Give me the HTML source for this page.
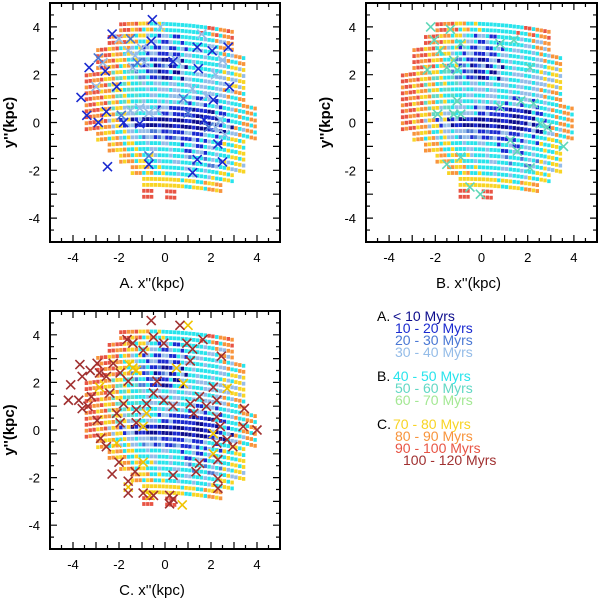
<!DOCTYPE html>
<html><head><meta charset="utf-8"><style>
body{margin:0;background:#fff;}
svg{display:block;font-family:"Liberation Sans",sans-serif;}
</style></head><body>
<svg id="chart" width="600" height="600" viewBox="0 0 600 600"></svg>
<script>
// field colour grid (rows y=4.0 down to -3.0, step 0.5; cols x=-4..3.5, step 0.5)
const gridRowsY=[4.0,3.5,3.0,2.5,2.0,1.5,1.0,0.5,0.0,-0.5,-1.0,-1.5,-2.0,-2.5,-3.0];
const gridColsX=[-4,-3.5,-3,-2.5,-2,-1.5,-1,-0.5,0,0.5,1,1.5,2,2.5,3,3.5];
const gridCodes=[
"....9874444498..",
"...98743144438..",
"..9874311344348.",
"..9874210344437.",
".98754210434337.",
".98754433443348.",
".987544343413448",
".987534311101448",
".987310010010348",
"..8743321131447.",
"...874434413447.",
"....87443442437.",
".....874443447..",
"......7777478...",
"......9.9......."];
const codeColors={"0":"#0c0c8c","1":"#1a2ad0","2":"#4a78d4","3":"#94bce8","4":"#28e4ec","5":"#62d8c4","6":"#a4e894","7":"#f8d424","8":"#f8943c","9":"#e85444","a":"#a03030"};
// crosses panel A
const aDarkX=[-0.55,-2.3,-0.6,2.75,2.05,1.4,0.35,-2.6,1.45,-3.3,2.8,-2.1,-3.65,2.1,-2.55,-3.4,-2.9,-1.8,1.7,2.3,-0.7,-2.5,1.2,1.4,2.5,-1.1];
const aDarkY=[4.3,3.7,3.4,3.15,3.0,3.15,2.55,2.15,2.25,2.3,1.5,1.5,1.05,0.95,0.45,0.3,0.0,0.0,0.1,-0.9,-1.75,-1.85,-2.1,-1.55,-1.65,-0.05];
const aMidX=[-1.5,-2.9,-1.2,0.8,-1.9,1.9,-0.7,1.0];
const aMidY=[3.5,2.7,2.5,1.0,0.3,-0.2,-1.4,0.4];
const aLightX=[-1.6,-1.3,-1.0,-1.4,-0.9,0.5,1.6,2.5,1.2,1.8,-1.1,-0.7,-1.5,-0.3,2.2,2.6,2.4,-2.7,-2.0,-0.2,2.2,-3.0];
const aLightY=[3.0,2.8,3.1,2.3,2.5,2.6,3.7,2.6,1.4,1.1,0.6,0.4,0.5,0.5,-0.2,-0.5,0.1,2.5,3.5,4.0,2.0,1.5];
// crosses panel B
const bX=[-2.2,-1.35,-0.9,1.4,-1.8,-1.2,-1.05,-2.35,-1.5,2.1,-1.05,-1.2,-1.9,-0.9,0.8,1.7,2.25,2.55,2.85,3.55,1.25,1.55,-0.9,-1.5,-0.5,-0.05,2.1,-2.05,0.8];
const bY=[4.0,3.9,3.3,3.45,3.0,2.6,2.2,2.2,2.3,2.3,0.9,0.35,0.35,0.35,0.65,0.9,0.8,-0.05,-0.2,-1.0,-0.75,-1.2,-1.45,-1.75,-2.7,-3.0,-1.9,3.45,3.3];
// crosses panel C
const cRedX=[-0.6,0.65,-1.4,-1.65,-0.5,-0.05,0.95,1.65,1.2,2.45,-0.95,1.1,-3.7,-3.25,-2.95,-2.85,-3.6,-2.55,-2.25,-1.95,-1.6,-0.35,-4.1,-4.2,-3.75,-3.2,-3.6,-3.35,-2.4,-1.8,-0.8,-0.05,-0.5,-1.25,-2.1,-1.95,-1.25,-2.95,-2.8,-2.55,0.35,1.1,1.25,1.8,2.1,2.25,1.5,2.25,2.4,2.7,2.95,3.4,3.45,4.0,2.25,2.3,1.5,1.35,2.3,2.3,-2.0,-2.3,-1.3,-1.6,-1.6,-0.5,-0.95,0.2,0.2,0.35,0.35];
const cRedY=[4.6,4.4,3.65,3.8,3.9,3.65,3.65,3.8,3.4,3.1,3.35,2.9,2.75,2.5,2.8,2.4,2.25,2.25,2.8,2.4,2.05,2.05,1.9,1.25,1.25,1.4,0.9,1.0,1.55,1.1,1.1,1.25,1.55,0.85,0.7,0.3,0.3,0.4,-0.35,-0.7,1.0,1.1,0.7,1.0,1.8,1.25,1.4,0.55,0.15,-0.4,-0.7,0.15,0.9,0.0,-0.55,-1.25,-1.4,-1.75,-2.05,-2.45,-1.35,-1.85,-1.75,-2.15,-2.65,-2.75,-2.65,-2.75,-3.1,-2.9,-1.9];
const cYelX=[1.0,-1.4,-1.25,-1.55,0.5,0.8,-2.85,-0.8,-0.95,2.1,2.1,-0.95,0.75,-0.65,-1.6,-2.1,2.7];
const cYelY=[4.4,2.6,2.5,2.75,2.6,1.95,1.8,0.7,0.15,-0.15,-1.0,-1.35,-3.15,-2.75,-2.4,-0.55,1.75];
// legend
const legendLabels=["< 10 Myrs","10 - 20 Myrs","20 - 30 Myrs","30 - 40 Myrs","40 - 50 Myrs","50 - 60 Myrs","60 - 70 Myrs","70 - 80 Myrs","80 - 90 Myrs","90 - 100 Myrs","100 - 120 Myrs"];
const legendColors=["#0c0c8c","#1a2ad0","#4a78d4","#94bce8","#28e4ec","#62d8c4","#a4e894","#f8d424","#f8943c","#e85444","#a03030"];
const tickValues=[-4,-2,0,2,4];

const NS="http://www.w3.org/2000/svg";
const svg=document.getElementById('chart');
function mk(tag,attrs,parent){const e=document.createElementNS(NS,tag);for(const k in attrs)e.setAttribute(k,attrs[k]);(parent||svg).appendChild(e);return e;}

const panels=[
 {id:'a',left:50,right:280,top:3,bottom:242,label:"A. x''(kpc)"},
 {id:'b',left:366,right:597,top:3,bottom:242,label:"B. x''(kpc)"},
 {id:'c',left:50,right:280,top:311,bottom:549,label:"C. x''(kpc)"}];
const shiftPattern=[0,-1,1];

function drawPanel(p,crossSets){
 const g=mk('g',{});
 
 
 const sx=v=>p.left+(v+5)/10*(p.right-p.left);
 const sy=v=>p.bottom-(v+5)/10*(p.bottom-p.top);
 // field
 const fg=mk('g',{},g);
 
 
 gridRowsY.forEach((yc,ri)=>{
  gridColsX.forEach((xl,ci)=>{
   const c=gridCodes[ri][ci];
   if(!c||c==='.')return;
   for(let s=0;s<2;s++){
    const yy=yc+0.125-s*0.25;
    for(let k=0;k<3;k++){
     const xx=xl+(k+0.5)*0.5/3;
     let nc=gridCodes[ri][ci+shiftPattern[(k+2*s+ri)%3]];
     if(!nc||nc==='.')nc=c;
     const bend=-0.025*xx*xx-0.04*xx;
     const r=mk('rect',{x:(sx(xx)-1.7).toFixed(1),y:(sy(yy+bend)-1.9).toFixed(1),width:3.4,height:3.8,fill:codeColors[nc]},fg);
     
     
    }
   }
  });
 });
 // crosses
 crossSets.forEach(cs=>{
  cs.xs.forEach((x,i)=>{
   const X=sx(x),Y=sy(cs.ys[i]),h=4.5;
   const pth=mk('path',{d:`M${X-h},${Y-h}L${X+h},${Y+h}M${X-h},${Y+h}L${X+h},${Y-h}`,stroke:cs.color,'stroke-width':1.6,fill:'none'},g);
   
   
  });
 });
 // frame
 const fr=mk('rect',{x:p.left,y:p.top,width:p.right-p.left,height:p.bottom-p.top,fill:'none',stroke:'#000','stroke-width':2},g);
 
 
 // ticks
 let d='';
 for(let v=-5;v<=5.001;v+=0.5){
  const maj=Math.abs(v-Math.round(v))<0.01;const L=maj?7:4;
  const X=sx(v),Y=sy(v);
  d+=`M${X},${p.bottom}v${-L}M${X},${p.top}v${L}M${p.left},${Y}h${L}M${p.right},${Y}h${-L}`;
 }
 const tk=mk('path',{d:d,stroke:'#000','stroke-width':1.2,fill:'none'},g);
 
 
 tickValues.forEach(v=>{
  const t=mk('text',{x:sx(v),y:p.bottom+20,'font-size':13,'text-anchor':'middle'},g);t.textContent=v;
  
  
  const t2=mk('text',{x:p.left-10,y:sy(v)+5,'font-size':13,'text-anchor':'end'},g);t2.textContent=v;
  
  
 });
 const xl=mk('text',{x:(p.left+p.right)/2-13,y:p.bottom+46,'font-size':15,'text-anchor':'middle'},g);xl.textContent=p.label;
 
 
 const cy=(p.top+p.bottom)/2;const lx=p.left-36;
 const yl=mk('text',{x:lx,y:cy,'font-size':15,'font-weight':'bold','text-anchor':'middle',transform:`rotate(-90 ${lx} ${cy})`},g);yl.textContent="y''(kpc)";
 
 
}
drawPanel(panels[0],[
 {xs:aLightX,ys:aLightY,color:'#94bce8',name:'cross-30-40'},
 {xs:aMidX,ys:aMidY,color:'#4a78d4',name:'cross-20-30'},
 {xs:aDarkX,ys:aDarkY,color:'#1a2ad0',name:'cross-10-20'}]);
drawPanel(panels[1],[{xs:bX,ys:bY,color:'#5fd8b8',name:'cross-40-70'}]);
drawPanel(panels[2],[
 {xs:cYelX,ys:cYelY,color:'#f0c400',name:'cross-70-80'},
 {xs:cRedX,ys:cRedY,color:'#a03030',name:'cross-100-120'}]);

// legend
const lg=mk('g',{});


const legendY=[321,333,345,357,381,393,405,429,441,453,465];
const legendX=[393,395,395,395,393,395,395,393,395,395,403];
[['A.',321],['B.',381],['C.',429]].forEach(h=>{
 const t=mk('text',{x:377,y:h[1],'font-size':14,fill:'#000'},lg);t.textContent=h[0];
 
 
});
legendLabels.forEach((s,i)=>{
 const t=mk('text',{x:legendX[i],y:legendY[i],'font-size':14,fill:legendColors[i]},lg);t.textContent=s;
 
 
});
</script>
</body></html>
